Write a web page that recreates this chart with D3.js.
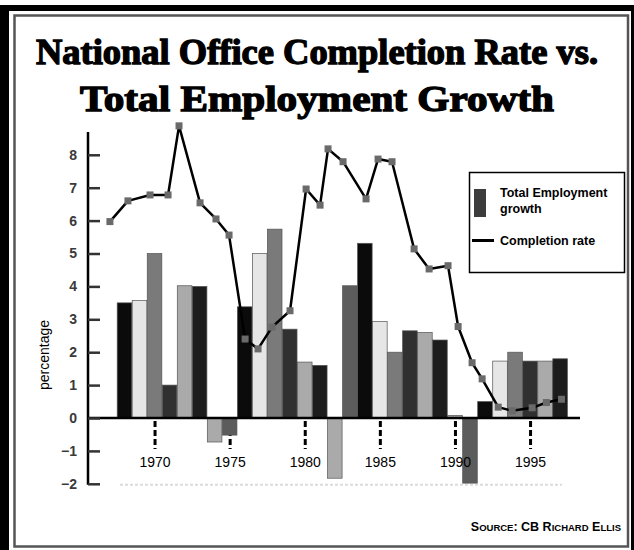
<!DOCTYPE html>
<html>
<head>
<meta charset="utf-8">
<script src="https://cdn.jsdelivr.net/npm/d3@7"></script>
<style>
  body { margin: 0; background: #fff; }
  svg { display: block; }
  text { font-family: "Liberation Sans", Arial, sans-serif; }
  text.title { font-family: "Liberation Serif", "Times New Roman", serif; }
</style>
</head>
<body>
<div id="chart"></div>
<script>
// total employment growth, one bar per year
const empYears = [1968, 1969, 1970, 1971, 1972, 1973, 1974, 1975, 1976, 1977,
  1978, 1979, 1980, 1981, 1982, 1983, 1984, 1985, 1986, 1987,
  1988, 1989, 1990, 1991, 1992, 1993, 1994, 1995, 1996, 1997];
const empGrowth = [3.5, 3.57, 5.0, 1.0, 4.02, 4.0, -0.73, -0.52, 3.38, 5.0,
  5.74, 2.7, 1.7, 1.6, -1.83, 4.02, 5.31, 2.93, 2.0, 2.65,
  2.6, 2.37, 0.08, -1.98, 0.5, 1.73, 2.0, 1.73, 1.73, 1.8];

// completion rate, points as placed on the original (decimal years)
const rateYears = [1967.03, 1968.23, 1969.7, 1970.9, 1971.63, 1973.03, 1974.09, 1974.96, 1976.03, 1976.89,
  1977.82, 1979.02, 1980.09, 1981.02, 1981.55, 1982.55, 1984.08, 1984.88, 1985.81, 1987.28,
  1988.28, 1989.54, 1990.21, 1991.14, 1991.81, 1992.88, 1993.81, 1995.14, 1996.09, 1997.09];
const completionRate = [5.97, 6.6, 6.78, 6.78, 8.88, 6.54, 6.05, 5.56, 2.4, 2.1,
  2.76, 3.26, 6.96, 6.47, 8.18, 7.79, 6.66, 7.87, 7.79, 5.14,
  4.53, 4.63, 2.78, 1.68, 1.19, 0.33, 0.22, 0.31, 0.47, 0.57];

const yTicks = [-2, -1, 0, 1, 2, 3, 4, 5, 6, 7, 8];
const xTicks = [1970, 1975, 1980, 1985, 1990, 1995];

// bar shades repeat every 8 years
const shades = ["#0b0b0b", "#e6e6e6", "#7a7a7a", "#303030", "#aaaaaa", "#1c1c1c", "#aaaaaa", "#5c5c5c"];

var width = 634,
  height = 550;

var svg = d3.select('#chart')
  .append('svg')
  .attr('width', width)
  .attr('height', height);

// frame
svg.append('rect')
  .attr('x', 0).attr('y', 5)
  .attr('width', width).attr('height', height - 5)
  .attr('fill', '#000');
svg.append('rect')
  .attr('x', 9).attr('y', 11)
  .attr('width', 622).attr('height', height - 11)
  .attr('fill', '#fff');
svg.append('rect')
  .attr('x', 14.5).attr('y', 15.5)
  .attr('width', 613.5).attr('height', 531)
  .attr('fill', 'none')
  .attr('stroke', '#555')
  .attr('stroke-width', 2.5);

// title
svg.append('text')
  .attr('class', 'title')
  .attr('x', 317).attr('y', 64)
  .attr('textLength', 562)
  .attr('lengthAdjust', 'spacingAndGlyphs')
  .text('National Office Completion Rate vs.');
svg.append('text')
  .attr('class', 'title')
  .attr('x', 317).attr('y', 111)
  .attr('textLength', 474)
  .attr('lengthAdjust', 'spacingAndGlyphs')
  .text('Total Employment Growth');
svg.selectAll('text.title')
  .attr('text-anchor', 'middle')
  .attr('fill', '#000')
  .attr('stroke', '#000')
  .attr('stroke-width', 1.3)
  .style('font-weight', 'bold')
  .style('font-size', '35px');

var x = d3.scaleLinear()
  .domain([1968, 1997])
  .range([124.5, 560.1]);

var y = d3.scaleLinear()
  .domain([-2, 8])
  .range([483.8, 154.8]);

var barW = 14.6;

// faint line along the bottom
svg.append('line')
  .attr('x1', 120).attr('x2', 562)
  .attr('y1', y(-2) + 1).attr('y2', y(-2) + 1)
  .attr('stroke', '#dcdcdc')
  .attr('stroke-width', 2)
  .attr('stroke-dasharray', '3,2');

var xAxisGen = d3.axisBottom(x)
  .tickValues(xTicks)
  .tickFormat(d3.format('d'))
  .tickSize(28)
  .tickPadding(8);

// dashed year ticks go under the bars
var xTickLines = svg.append('g')
  .attr('transform', 'translate(0,' + (y(0) + 3) + ')')
  .call(xAxisGen);
xTickLines.select('.domain').remove();
xTickLines.selectAll('.tick text').remove();
xTickLines.selectAll('.tick line')
  .attr('stroke', '#000')
  .attr('stroke-width', 3)
  .attr('stroke-dasharray', '6,3');

// bars
svg.selectAll('.bar')
  .data(empGrowth)
  .enter()
  .append('rect')
  .attr('class', 'bar')
  .attr('x', function (d, i) { return x(empYears[i]) - barW / 2; })
  .attr('y', function (d) { return y(Math.max(0, d)); })
  .attr('width', barW)
  .attr('height', function (d) { return Math.abs(y(d) - y(0)); })
  .attr('fill', function (d, i) { return shades[i % shades.length]; })
  .attr('stroke', '#555')
  .attr('stroke-width', 0.7);

// year labels on top
var xLabels = svg.append('g')
  .attr('transform', 'translate(0,' + (y(0) + 3) + ')')
  .call(xAxisGen);
xLabels.select('.domain').remove();
xLabels.selectAll('.tick line').remove();
xLabels.selectAll('.tick text')
  .attr('fill', '#000')
  .style('font-size', '14px');

// zero line
svg.append('line')
  .attr('x1', 88).attr('x2', 580)
  .attr('y1', y(0)).attr('y2', y(0))
  .attr('stroke', '#000')
  .attr('stroke-width', 2.5);

// y axis
svg.append('line')
  .attr('x1', 88).attr('x2', 88)
  .attr('y1', 132).attr('y2', y(-2) + 1)
  .attr('stroke', '#000')
  .attr('stroke-width', 2.5);

var yAxis = svg.append('g')
  .attr('transform', 'translate(88,0)')
  .call(d3.axisLeft(y)
    .tickValues(yTicks)
    .tickSizeInner(-12)
    .tickSizeOuter(0)
    .tickPadding(11));
yAxis.select('.domain').remove();
yAxis.selectAll('.tick line')
  .attr('stroke', '#333')
  .attr('stroke-width', 2.5);
yAxis.selectAll('.tick text')
  .attr('fill', '#3a3a3a')
  .style('font-size', '14px')
  .style('font-weight', 'bold');

svg.append('text')
  .attr('transform', 'translate(49,355) rotate(-90)')
  .attr('text-anchor', 'middle')
  .style('font-size', '14px')
  .attr('fill', '#000')
  .text('percentage');

// completion rate line
var line = d3.line()
  .x(function (d, i) { return x(rateYears[i]); })
  .y(function (d) { return y(d); });

svg.append('path')
  .datum(completionRate)
  .attr('d', line)
  .attr('fill', 'none')
  .attr('stroke', '#000')
  .attr('stroke-width', 2.5)
  .attr('stroke-linejoin', 'round');

svg.selectAll('.marker')
  .data(completionRate)
  .enter()
  .append('rect')
  .attr('class', 'marker')
  .attr('x', function (d, i) { return x(rateYears[i]) - 3.5; })
  .attr('y', function (d) { return y(d) - 3.5; })
  .attr('width', 7)
  .attr('height', 7)
  .attr('fill', '#6a6a6a');

// legend
var legend = svg.append('g');
legend.append('rect')
  .attr('x', 469.5).attr('y', 172.5)
  .attr('width', 155).attr('height', 100)
  .attr('fill', '#fff')
  .attr('stroke', '#000')
  .attr('stroke-width', 1.5);
legend.append('rect')
  .attr('x', 474).attr('y', 189)
  .attr('width', 12).attr('height', 28)
  .attr('fill', '#3c3c3c');
legend.append('line')
  .attr('x1', 472).attr('x2', 494)
  .attr('y1', 240.5).attr('y2', 240.5)
  .attr('stroke', '#000')
  .attr('stroke-width', 3);
var legText = legend.append('g')
  .style('font-size', '12.5px')
  .style('font-weight', 'bold')
  .attr('fill', '#000');
legText.append('text').attr('x', 500).attr('y', 197).text('Total Employment');
legText.append('text').attr('x', 500).attr('y', 213).text('growth');
legText.append('text').attr('x', 500).attr('y', 245).text('Completion rate');

// source, in small caps
var src = svg.append('text')
  .attr('x', 621).attr('y', 531)
  .attr('text-anchor', 'end')
  .style('font-weight', 'bold')
  .style('font-size', '12.5px')
  .attr('fill', '#000');
[['S', 12.5], ['OURCE', 9.5], [': CB R', 12.5], ['ICHARD', 9.5], [' E', 12.5], ['LLIS', 9.5]]
  .forEach(function (p) {
    src.append('tspan').style('font-size', p[1] + 'px').text(p[0]);
  });
</script>
</body>
</html>
